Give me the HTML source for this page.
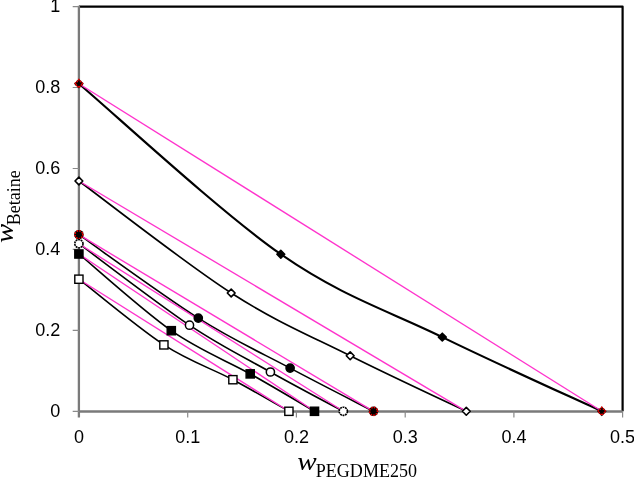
<!DOCTYPE html>
<html lang="en"><head><meta charset="utf-8"><title>Binodal curves</title>
<style>
html,body{margin:0;padding:0;background:#fff;}
body{width:634px;height:478px;overflow:hidden;}
svg{display:block;will-change:transform;}
.tk{font-family:"Liberation Sans",Arial,sans-serif;font-size:18px;fill:#000;}
.ti{font-family:"Liberation Serif","Times New Roman",serif;fill:#000;}
</style></head><body>
<svg width="634" height="478" viewBox="0 0 634 478">
<rect width="634" height="478" fill="#fff"/>

<path d="M79.0,6.55 H622.6 V411.3" fill="none" stroke="#000" stroke-width="2.2" stroke-linejoin="round"/>
<path d="M78.9,5.6499999999999995 V417.6" fill="none" stroke="#7a7a7a" stroke-width="2.3"/>
<path d="M78.0,411.40000000000003 H622.6" fill="none" stroke="#7a7a7a" stroke-width="2.5"/>
<path d="M187.7,411.3 V417.6 M296.4,411.3 V417.6 M405.2,411.3 V417.6 M513.9,411.3 V417.6 M622.6,411.3 V417.6 M72.7,411.3 H79.0 M72.7,330.4 H79.0 M72.7,249.4 H79.0 M72.7,168.5 H79.0 M72.7,87.5 H79.0 M72.7,6.6 H79.0" fill="none" stroke="#8a8a8a" stroke-width="1.2"/>
<text class="tk" x="79.0" y="442.6" text-anchor="middle">0</text>
<text class="tk" x="187.7" y="442.6" text-anchor="middle">0.1</text>
<text class="tk" x="296.4" y="442.6" text-anchor="middle">0.2</text>
<text class="tk" x="405.2" y="442.6" text-anchor="middle">0.3</text>
<text class="tk" x="513.9" y="442.6" text-anchor="middle">0.4</text>
<text class="tk" x="622.6" y="442.6" text-anchor="middle">0.5</text>
<text class="tk" x="60.3" y="417.0" text-anchor="end">0</text>
<text class="tk" x="60.3" y="336.1" text-anchor="end">0.2</text>
<text class="tk" x="60.3" y="255.1" text-anchor="end">0.4</text>
<text class="tk" x="60.3" y="174.2" text-anchor="end">0.6</text>
<text class="tk" x="60.3" y="93.2" text-anchor="end">0.8</text>
<text class="tk" x="60.3" y="12.3" text-anchor="end">1</text>
<path d="M78.9,83.7 C112.6,112.1 220.2,212.0 280.8,254.2 C341.4,296.4 388.8,310.9 442.3,337.1 C495.8,363.3 575.2,398.9 601.8,411.3" fill="none" stroke="#000" stroke-width="2.15" stroke-linejoin="round"/>
<path d="M78.9,181.0 C104.3,199.7 186.0,263.9 231.2,293.0 C276.4,322.1 311.0,336.1 350.2,355.8 C389.4,375.5 446.9,402.1 466.3,411.3" fill="none" stroke="#000" stroke-width="1.6" stroke-linejoin="round"/>
<path d="M78.9,234.7 C98.8,248.6 163.1,295.9 198.3,318.1 C233.5,340.3 260.9,352.6 290.1,368.1 C319.3,383.6 359.6,404.1 373.5,411.3" fill="none" stroke="#000" stroke-width="1.6" stroke-linejoin="round"/>
<path d="M78.9,243.7 C97.3,257.3 157.6,303.8 189.5,325.2 C221.4,346.6 244.8,357.6 270.4,372.0 C296.0,386.4 331.1,404.8 343.3,411.3" fill="none" stroke="#000" stroke-width="1.6" stroke-linejoin="round"/>
<path d="M78.9,254.0 C94.3,266.8 142.8,310.7 171.3,330.7 C199.9,350.7 226.3,360.5 250.2,373.9 C274.1,387.3 303.8,405.1 314.5,411.3" fill="none" stroke="#000" stroke-width="1.6" stroke-linejoin="round"/>
<path d="M78.9,279.2 C93.1,290.1 138.2,328.1 163.9,344.9 C189.6,361.6 212.1,368.6 232.9,379.7 C253.7,390.8 279.6,406.0 288.9,411.3" fill="none" stroke="#000" stroke-width="1.6" stroke-linejoin="round"/>
<line x1="78.9" y1="83.7" x2="601.8" y2="411.3" stroke="#ff33cc" stroke-width="1.35"/>
<line x1="78.9" y1="181.0" x2="466.3" y2="411.3" stroke="#ff33cc" stroke-width="1.35"/>
<line x1="78.9" y1="234.7" x2="373.5" y2="411.3" stroke="#ff33cc" stroke-width="1.35"/>
<line x1="78.9" y1="243.7" x2="343.3" y2="411.3" stroke="#ff33cc" stroke-width="1.35"/>
<line x1="78.9" y1="254.0" x2="314.5" y2="411.3" stroke="#ff33cc" stroke-width="1.35"/>
<line x1="78.9" y1="279.2" x2="288.9" y2="411.3" stroke="#ff33cc" stroke-width="1.35"/>
<path d="M78.9,79.8 L82.8,83.7 L78.9,87.6 L75.0,83.7 Z" fill="#000" stroke="#000" stroke-width="1.4"/><path d="M78.9,79.8 L82.8,83.7 L78.9,87.6 L75.0,83.7 Z" fill="none" stroke="#e80000" stroke-width="1.9" stroke-linecap="round" stroke-dasharray="0 2.45"/>
<path d="M280.8,250.3 L284.7,254.2 L280.8,258.1 L276.9,254.2 Z" fill="#000" stroke="#000" stroke-width="1.6" stroke-linejoin="round"/>
<path d="M442.3,333.2 L446.2,337.1 L442.3,341.0 L438.4,337.1 Z" fill="#000" stroke="#000" stroke-width="1.6" stroke-linejoin="round"/>
<path d="M601.8,407.4 L605.7,411.3 L601.8,415.2 L597.9,411.3 Z" fill="#000" stroke="#000" stroke-width="1.4"/><path d="M601.8,407.4 L605.7,411.3 L601.8,415.2 L597.9,411.3 Z" fill="none" stroke="#e80000" stroke-width="1.9" stroke-linecap="round" stroke-dasharray="0 2.45"/>
<path d="M78.9,177.1 L82.8,181.0 L78.9,184.9 L75.0,181.0 Z" fill="#fff" stroke="#000" stroke-width="1.6" stroke-linejoin="round"/>
<path d="M231.2,289.1 L235.1,293.0 L231.2,296.9 L227.3,293.0 Z" fill="#fff" stroke="#000" stroke-width="1.6" stroke-linejoin="round"/>
<path d="M350.2,351.9 L354.1,355.8 L350.2,359.7 L346.3,355.8 Z" fill="#fff" stroke="#000" stroke-width="1.6" stroke-linejoin="round"/>
<path d="M466.3,407.4 L470.2,411.3 L466.3,415.2 L462.4,411.3 Z" fill="#fff" stroke="#000" stroke-width="1.6" stroke-linejoin="round"/>
<circle cx="78.9" cy="234.7" r="4.75" fill="#000"/><circle cx="78.9" cy="234.7" r="3.95" fill="none" stroke="#e80000" stroke-width="1.9" stroke-linecap="round" stroke-dasharray="0 2.757"/>
<circle cx="198.3" cy="318.1" r="4.1" fill="#000" stroke="#000" stroke-width="1.5"/>
<circle cx="290.1" cy="368.1" r="4.1" fill="#000" stroke="#000" stroke-width="1.5"/>
<circle cx="373.5" cy="411.3" r="4.75" fill="#000"/><circle cx="373.5" cy="411.3" r="3.95" fill="none" stroke="#e80000" stroke-width="1.9" stroke-linecap="round" stroke-dasharray="0 2.757"/>
<circle cx="78.9" cy="243.7" r="4.1" fill="#fff" stroke="#000" stroke-width="1.6" stroke-dasharray="1.95 0.626"/>
<circle cx="189.5" cy="325.2" r="4.1" fill="#fff" stroke="#000" stroke-width="1.5"/>
<circle cx="270.4" cy="372.0" r="4.1" fill="#fff" stroke="#000" stroke-width="1.5"/>
<circle cx="343.3" cy="411.3" r="4.1" fill="#fff" stroke="#000" stroke-width="1.6" stroke-dasharray="1.95 0.626"/>
<rect x="74.8" y="249.9" width="8.2" height="8.2" fill="#000" stroke="#000" stroke-width="1.4"/>
<rect x="167.2" y="326.6" width="8.2" height="8.2" fill="#000" stroke="#000" stroke-width="1.4"/>
<rect x="246.1" y="369.8" width="8.2" height="8.2" fill="#000" stroke="#000" stroke-width="1.4"/>
<rect x="310.4" y="407.2" width="8.2" height="8.2" fill="#000" stroke="#000" stroke-width="1.4"/>
<rect x="74.8" y="275.1" width="8.2" height="8.2" fill="#fff" stroke="#000" stroke-width="1.4"/>
<rect x="159.8" y="340.8" width="8.2" height="8.2" fill="#fff" stroke="#000" stroke-width="1.4"/>
<rect x="228.8" y="375.6" width="8.2" height="8.2" fill="#fff" stroke="#000" stroke-width="1.4"/>
<rect x="284.8" y="407.2" width="8.2" height="8.2" fill="#fff" stroke="#000" stroke-width="1.4"/>
<text class="ti" transform="translate(297.3,469.5) scale(1.19,1)" font-style="italic" font-size="24.5px">w</text>
<text class="ti" x="315.8" y="476.8" font-size="18.05px">PEGDME250</text>
<text class="ti" transform="translate(12.7,243.0) rotate(-90) scale(1.18,1)" font-style="italic" font-size="24.5px">w</text>
<text class="ti" transform="translate(19.8,225.2) rotate(-90)" font-size="18px">Betaine</text>
</svg></body></html>
